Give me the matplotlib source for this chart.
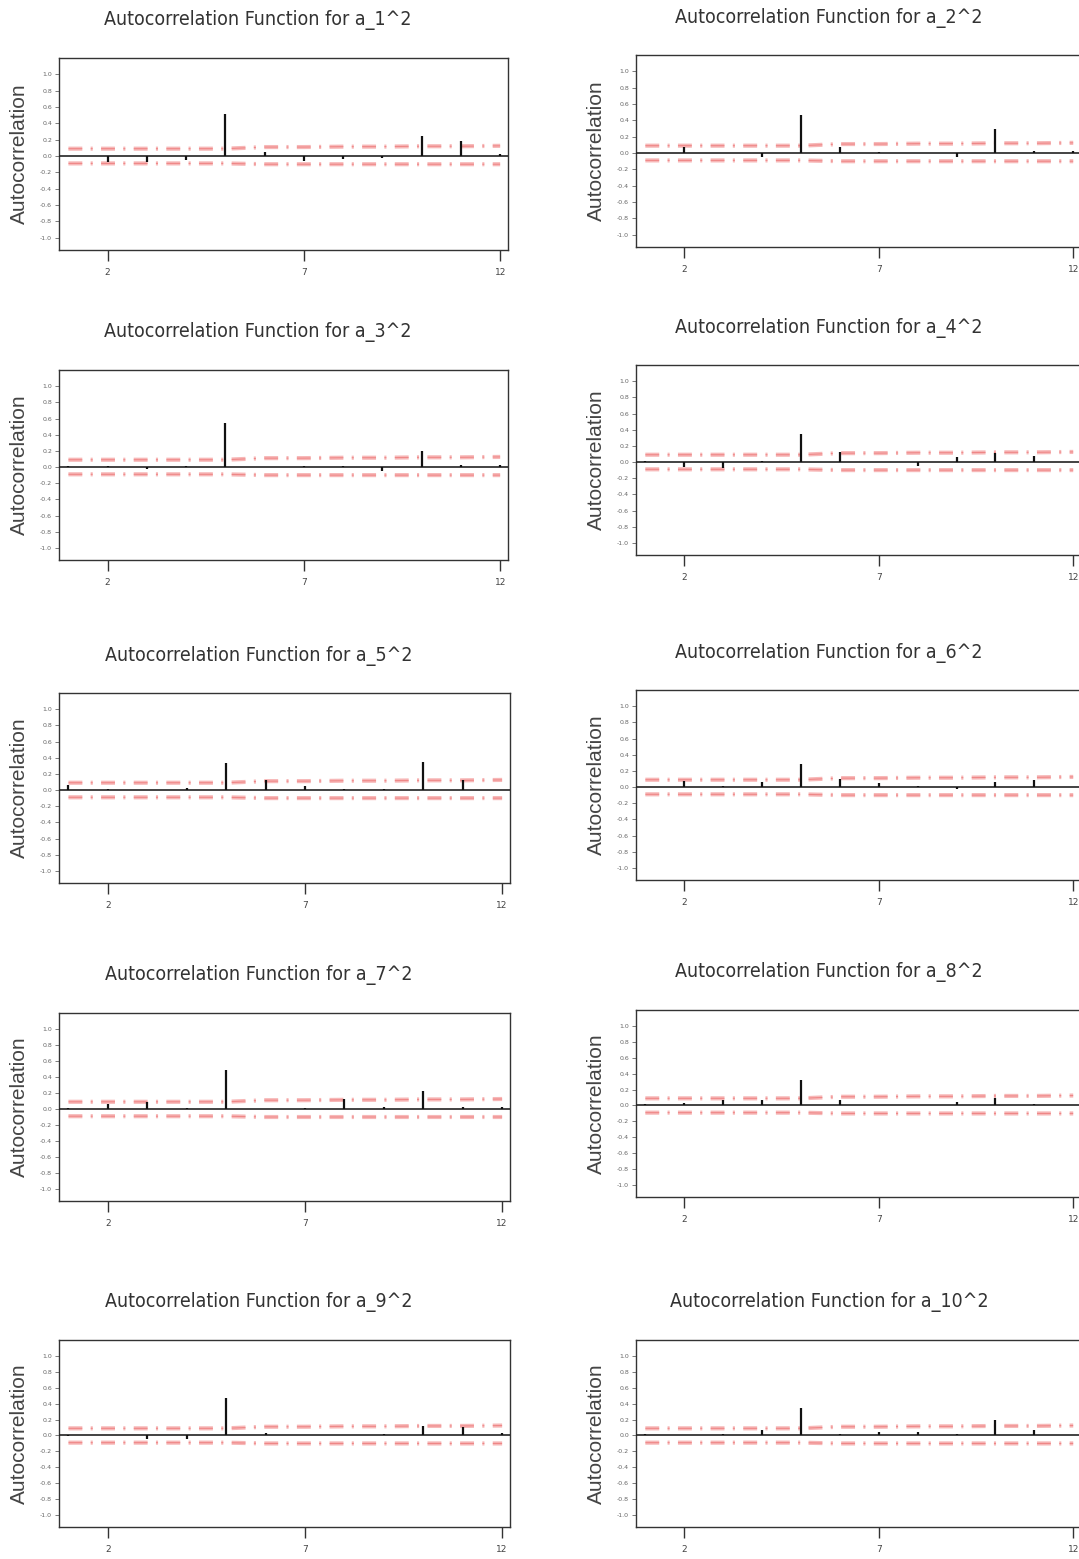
import matplotlib
matplotlib.use("Agg")
import matplotlib.pyplot as plt
from matplotlib import font_manager

lags = [1, 2, 3, 4, 5, 6, 7, 8, 9, 10, 11, 12]
xticks = [2, 7, 12]
yticks = [-1.0, -0.8, -0.6, -0.4, -0.2, 0.0, 0.2, 0.4, 0.6, 0.8, 1.0]

titles = ["Autocorrelation Function for a_1^2", "Autocorrelation Function for a_2^2",
          "Autocorrelation Function for a_3^2", "Autocorrelation Function for a_4^2",
          "Autocorrelation Function for a_5^2", "Autocorrelation Function for a_6^2",
          "Autocorrelation Function for a_7^2", "Autocorrelation Function for a_8^2",
          "Autocorrelation Function for a_9^2", "Autocorrelation Function for a_10^2"]

acf_a1 = [0.00, -0.07, -0.07, -0.05, 0.52, 0.05, -0.06, -0.04, -0.03, 0.24, 0.19, 0.03]
acf_a2 = [0.00, 0.08, 0.00, -0.05, 0.47, 0.07, 0.01, 0.00, -0.05, 0.29, 0.03, 0.02]
acf_a3 = [0.01, 0.01, -0.03, 0.01, 0.55, 0.00, 0.01, 0.01, -0.05, 0.20, 0.03, 0.03]
acf_a4 = [0.01, -0.06, -0.07, 0.01, 0.35, 0.13, 0.00, -0.05, 0.06, 0.11, 0.08, 0.00]
acf_a5 = [0.06, 0.01, 0.00, 0.03, 0.34, 0.12, 0.05, 0.01, 0.01, 0.35, 0.13, 0.00]
acf_a6 = [0.00, 0.08, 0.01, 0.06, 0.28, 0.10, 0.05, 0.01, -0.03, 0.06, 0.09, 0.00]
acf_a7 = [0.01, 0.06, 0.09, 0.01, 0.49, 0.00, 0.01, 0.13, 0.02, 0.22, 0.02, 0.03]
acf_a8 = [0.02, 0.03, 0.07, 0.07, 0.32, 0.07, 0.01, 0.00, 0.04, 0.09, 0.02, 0.00]
acf_a9 = [-0.01, 0.01, -0.04, -0.05, 0.47, 0.03, 0.00, 0.01, 0.02, 0.12, 0.11, 0.03]
acf_a10 = [0.02, 0.01, 0.02, 0.07, 0.34, 0.02, 0.05, 0.05, 0.02, 0.20, 0.07, 0.00]
acfs = [acf_a1, acf_a2, acf_a3, acf_a4, acf_a5, acf_a6, acf_a7, acf_a8, acf_a9, acf_a10]

upper_bound = [0.09, 0.09, 0.09, 0.09, 0.09, 0.11, 0.11, 0.115, 0.115, 0.12, 0.12, 0.125]
lower_bound = [-0.09, -0.09, -0.09, -0.09, -0.09, -0.10, -0.10, -0.10, -0.10, -0.10, -0.10, -0.10]

names = set(f.name for f in font_manager.fontManager.ttflist)
if "Liberation Sans Narrow" in names:
    title_kw = dict(family="Liberation Sans Narrow", fontsize=15)
else:
    title_kw = dict(family="DejaVu Sans", fontstretch="condensed", fontsize=14)

plt.rcParams["lines.scale_dashes"] = False

W, H = 1079, 1559
fig = plt.figure(figsize=(W / 100, H / 100), dpi=100)

# axes boxes in pixels: (left, top, right, bottom)
boxes = [
    (59, 58, 508, 250), (636, 55, 1081, 247),
    (59, 370, 508, 560), (636, 365, 1081, 555),
    (59, 693, 510, 883), (636, 690, 1081, 880),
    (59, 1013, 510, 1201), (636, 1010, 1081, 1197),
    (59, 1340, 510, 1527), (636, 1340, 1081, 1527),
]

dash = (0, (10, 6, 1.5, 6))
for i, (l, t, r, b) in enumerate(boxes):
    ax = fig.add_axes([l / W, 1 - b / H, (r - l) / W, (b - t) / H])
    ax.set_xlim(0.76, 12.2)
    ax.set_ylim(-1.15, 1.2)
    for bound in (upper_bound, lower_bound):
        ax.plot(lags, bound, color="#f7b8b8", lw=3.0, linestyle=dash, zorder=2)
        ax.plot(lags, bound, color="#e86060", lw=0.8, linestyle=dash, zorder=2, alpha=0.55)
    ax.axhline(0, color="#222222", lw=1.2, zorder=3)
    ax.vlines(lags, 0, acfs[i], color="#111111", lw=1.6, zorder=4)
    ax.set_xticks(xticks)
    ax.set_xticklabels([str(v) for v in xticks], fontsize=6.5, color="#444444")
    ax.set_yticks(yticks)
    ax.set_yticklabels([f"{v:.1f}" for v in yticks], fontsize=4.5, color="#666666")
    ax.tick_params(axis="x", direction="out", length=8, width=1.0, pad=5, color="#333333")
    ax.tick_params(axis="y", direction="out", length=3, width=0.6, pad=2, color="#666666")
    for s in ax.spines.values():
        s.set_color("#333333")
        s.set_linewidth(1.0)
    ax.set_ylabel("Autocorrelation", fontsize=15, color="#444444", family="Liberation Sans")
    ax.yaxis.set_label_coords(-30 / (r - l), 0.5)
    tx = 0.443 if i % 2 == 0 else 0.434
    ax.annotate(titles[i], xy=(tx, 1.0), xycoords="axes fraction",
                xytext=(0, 27), textcoords="offset points",
                ha="center", va="center", color="#333333", **title_kw)

fig.savefig("out.png", dpi=100, facecolor="white")
